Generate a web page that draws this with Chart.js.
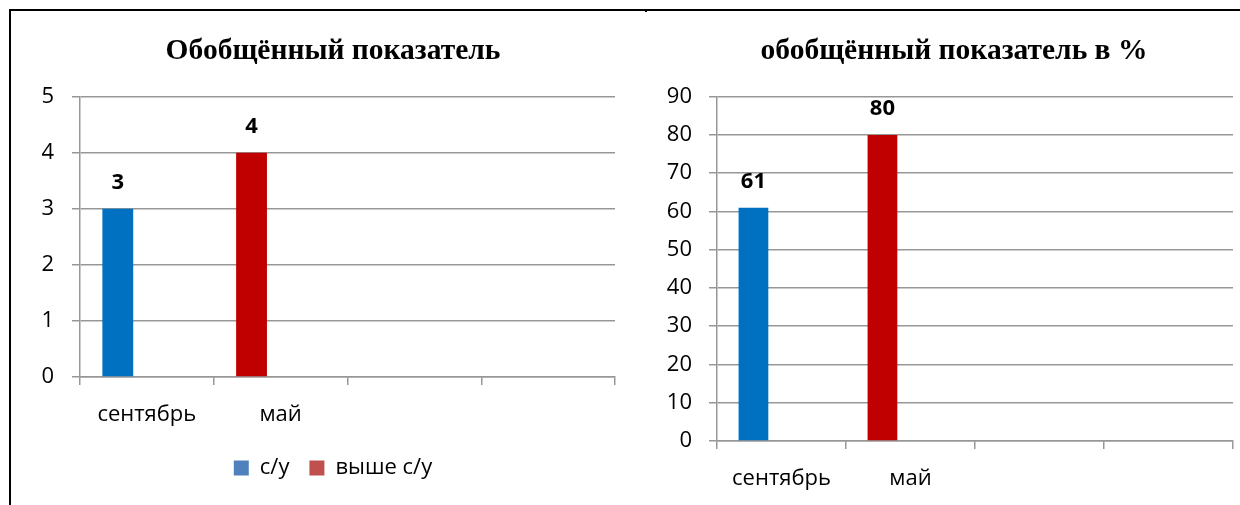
<!DOCTYPE html>
<html lang="ru">
<head>
    <meta charset="UTF-8">
    <title>Обобщённый показатель</title>
    <script src="https://cdn.jsdelivr.net/npm/chart.js"></script>
    <style>
        html, body {
            margin: 0;
            padding: 0;
            background: #fff;
            width: 1240px;
            height: 505px;
            overflow: hidden;
            position: relative;
        }
        canvas {
            position: absolute;
            top: 0;
        }
        #leftChart { left: 12px; }
        #rightChart { left: 645px; }
        .rule {
            position: absolute;
            background: #000;
            z-index: 2;
        }
    </style>
</head>
<body>
    <div class="rule" style="left:9px; top:9px; width:1231px; height:2px;"></div>
    <div class="rule" style="left:9px; top:9px; width:2px; height:496px;"></div>
    <div class="rule" style="left:645px; top:9px; width:2px; height:3px;"></div>

    <canvas id="leftChart" width="642" height="505"></canvas>
    <canvas id="rightChart" width="618" height="505"></canvas>

    <script>
        // categories (the last two are empty in the original)
        const categories = ['сентябрь', 'май', '', ''];
        const seriesNames = ['с/у', 'выше с/у'];

        // Обобщённый показатель
        const generalSu = [3, null, null, null];
        const generalAbove = [null, 4, null, null];

        // обобщённый показатель в %
        const percentSu = [61, null, null, null];
        const percentAbove = [null, 80, null, null];

        const barColors = ['#0070C0', '#C00000'];
        const legendColors = ['#4F81BD', '#C0504D'];
        const gridColor = '#979797';
        const tickFont = { family: '"Open Sans", sans-serif', size: 22 };

        // value labels above the bars
        const valueLabels = {
            id: 'valueLabels',
            afterDatasetsDraw(chart) {
                const ctx = chart.ctx;
                ctx.save();
                ctx.font = 'bold 22px "Open Sans", sans-serif';
                ctx.fillStyle = '#000';
                ctx.textAlign = 'center';
                ctx.textBaseline = 'middle';
                chart.data.datasets.forEach((ds, i) => {
                    chart.getDatasetMeta(i).data.forEach((bar, j) => {
                        const v = ds.data[j];
                        if (v === null || v === undefined) return;
                        ctx.fillText(String(v), bar.x, bar.y - 26);
                    });
                });
                ctx.restore();
            }
        };

        function makeChart(id, opts) {
            return new Chart(document.getElementById(id), {
                type: 'bar',
                data: {
                    labels: categories,
                    datasets: [
                        { label: seriesNames[0], data: opts.su, backgroundColor: barColors[0], stack: 'a' },
                        { label: seriesNames[1], data: opts.above, backgroundColor: barColors[1], stack: 'a' },
                        // empty series, keeps the bars on the left side of each category
                        { label: '', data: categories.map(() => null), stack: 'b' }
                    ]
                },
                options: {
                    responsive: false,
                    animation: false,
                    devicePixelRatio: 1,
                    categoryPercentage: 0.87,
                    barPercentage: 0.53,
                    layout: { padding: { left: 0, right: 0, top: 0, bottom: opts.padBottom } },
                    plugins: {
                        title: {
                            display: true,
                            text: opts.title,
                            color: '#000',
                            font: { family: '"Liberation Serif", serif', size: 29.5, weight: 'bold', lineHeight: 1.2 },
                            padding: { top: 33.3, bottom: 28 }
                        },
                        legend: {
                            display: opts.legend,
                            position: 'bottom',
                            labels: {
                                color: '#000',
                                font: tickFont,
                                boxWidth: 15,
                                boxHeight: 15,
                                padding: 20,
                                filter: item => item.text !== '',
                                generateLabels(chart) {
                                    const items = Chart.defaults.plugins.legend.labels.generateLabels(chart);
                                    items.forEach(it => {
                                        const c = legendColors[it.datasetIndex];
                                        if (c) {
                                            it.fillStyle = c;
                                            it.strokeStyle = c;
                                            it.lineWidth = 0;
                                        }
                                    });
                                    return items;
                                }
                            }
                        },
                        tooltip: { enabled: false }
                    },
                    scales: {
                        x: {
                            offset: true,
                            grid: { drawOnChartArea: false, tickLength: 8, color: gridColor, lineWidth: 1.5, offset: true },
                            border: { color: gridColor, width: 1.5 },
                            ticks: { color: '#000', font: tickFont, padding: 17, maxRotation: 0, autoSkip: false },
                            afterFit(scale) { scale.height = opts.xHeight; }
                        },
                        y: {
                            min: 0,
                            max: opts.max,
                            grid: { color: gridColor, tickLength: 8, lineWidth: 1.5 },
                            border: { color: gridColor, width: 1.5 },
                            ticks: { stepSize: opts.step, color: '#000', font: tickFont, padding: opts.yPad },
                            afterFit(scale) { scale.width = opts.yWidth; }
                        },
                        // invisible spacer on the right, keeps title centred like the original
                        spacer: {
                            type: 'linear',
                            position: 'right',
                            display: true,
                            grid: { display: false },
                            border: { display: false },
                            ticks: { display: false },
                            afterFit(scale) { scale.width = opts.rightGap; }
                        }
                    }
                },
                plugins: [valueLabels]
            });
        }

        makeChart('leftChart', {
            title: 'Обобщённый показатель',
            su: generalSu,
            above: generalAbove,
            max: 5,
            step: 1,
            legend: true,
            padBottom: 16,
            xHeight: 60,
            yWidth: 68,
            rightGap: 39,
            yPad: 18
        });

        makeChart('rightChart', {
            title: 'обобщённый показатель в %',
            su: percentSu,
            above: percentAbove,
            max: 90,
            step: 10,
            legend: false,
            padBottom: 0,
            xHeight: 64,
            yWidth: 72,
            rightGap: 30,
            yPad: 17
        });
    </script>
</body>
</html>
